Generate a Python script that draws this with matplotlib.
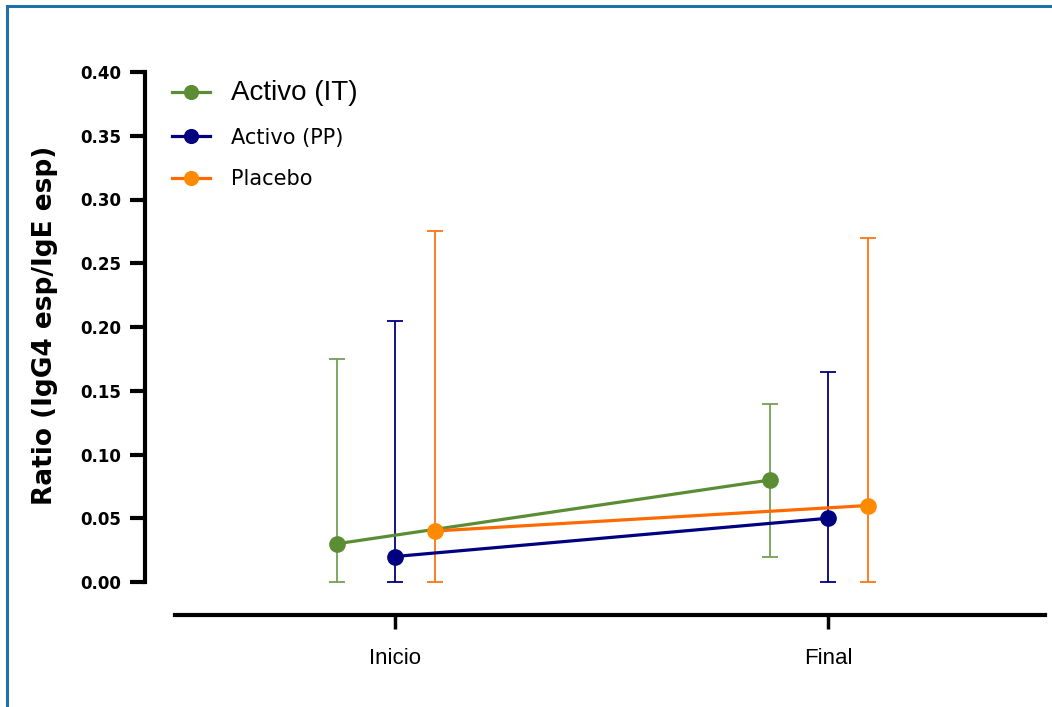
import matplotlib
matplotlib.use('Agg')
import matplotlib.pyplot as plt
from matplotlib.patches import Rectangle
import numpy as np

# data
categories = ['Inicio', 'Final']
series = ['Activo (IT)', 'Activo (PP)', 'Placebo']
means = {
    'Activo (IT)': [0.03, 0.08],
    'Activo (PP)': [0.02, 0.05],
    'Placebo': [0.04, 0.06],
}
err_low = {
    'Activo (IT)': [0.00, 0.02],
    'Activo (PP)': [0.00, 0.00],
    'Placebo': [0.00, 0.00],
}
err_high = {
    'Activo (IT)': [0.175, 0.14],
    'Activo (PP)': [0.205, 0.165],
    'Placebo': [0.275, 0.27],
}
yticks = [0.00, 0.05, 0.10, 0.15, 0.20, 0.25, 0.30, 0.35, 0.40]

# styles
offsets = {'Activo (IT)': -0.134, 'Activo (PP)': 0.0, 'Placebo': 0.092}
line_col = {'Activo (IT)': '#5b8e34', 'Activo (PP)': '#000080', 'Placebo': '#ff6a00'}
mark_col = {'Activo (IT)': '#5b8e34', 'Activo (PP)': '#000080', 'Placebo': '#ff8a00'}
err_col = {'Activo (IT)': '#74a055', 'Activo (PP)': '#000080', 'Placebo': '#ff7414'}

fig = plt.figure(figsize=(10.52, 7.07), dpi=100)
ax = fig.add_axes([175 / 1052, 125 / 707, 870 / 1052, 510 / 707])

x = np.arange(len(categories))
handles = []
for i, s in enumerate(series):
    xs = x + offsets[s]
    m = np.array(means[s])
    lo = m - np.array(err_low[s])
    hi = np.array(err_high[s]) - m
    ax.errorbar(xs, m, yerr=[lo, hi], fmt='none', ecolor=err_col[s],
                elinewidth=1.3, capsize=5.5, capthick=1.3, clip_on=False, zorder=2)
    h, = ax.plot(xs, m, '-o', color=line_col[s], markerfacecolor=mark_col[s],
                 markeredgecolor=mark_col[s], lw=2.3, ms=11, clip_on=False,
                 zorder=3 + i, label=s)
    handles.append(h)

for sp in ['top', 'right']:
    ax.spines[sp].set_visible(False)
ax.spines['left'].set_position(('outward', 21.6))
ax.spines['left'].set_bounds(0, 0.40)
ax.spines['left'].set_linewidth(3)
ax.spines['bottom'].set_position(('outward', 23.8))
ax.spines['bottom'].set_linewidth(3)
ax.tick_params(axis='y', length=11, width=3, pad=6)
ax.tick_params(axis='x', length=10, width=2.5, pad=14)

ax.set_xlim(-0.508, 1.501)
ax.set_ylim(0, 0.40)
ax.set_xticks(x)
ax.set_xticklabels(categories)
ax.set_yticks(yticks)
ax.set_yticklabels(['%.2f' % v for v in yticks])
for lab in ax.get_xticklabels():
    lab.set_fontsize(16)
    lab.set_family('Liberation Sans')
for lab in ax.get_yticklabels():
    lab.set_fontsize(12)
    lab.set_family('DejaVu Sans')
    lab.set_fontweight('bold')

ax.set_ylabel('Ratio (IgG4 esp/IgE esp)', fontsize=19, family='DejaVu Sans',
              fontweight='bold')
ax.yaxis.set_label_coords(-0.135, 0.504)

leg = ax.legend(handles=handles, loc='upper left', bbox_to_anchor=(-0.003, 0.985),
                frameon=False, fontsize=15, handlelength=1.8, handletextpad=1.0,
                labelspacing=1.05, borderpad=0, borderaxespad=0, markerscale=0.9)
txts = leg.get_texts()
txts[0].set_fontsize(20)
txts[0].set_family('Liberation Sans')
for t in txts[1:]:
    t.set_family('DejaVu Sans')

# blue frame around the figure
fig.patches.append(Rectangle((7 / 1052, -0.05), 1.2, (707 - 6) / 707 + 0.05,
                             transform=fig.transFigure, fill=False,
                             edgecolor='#1f6fa8', lw=2.2))

fig.savefig('out.png', dpi=100)
